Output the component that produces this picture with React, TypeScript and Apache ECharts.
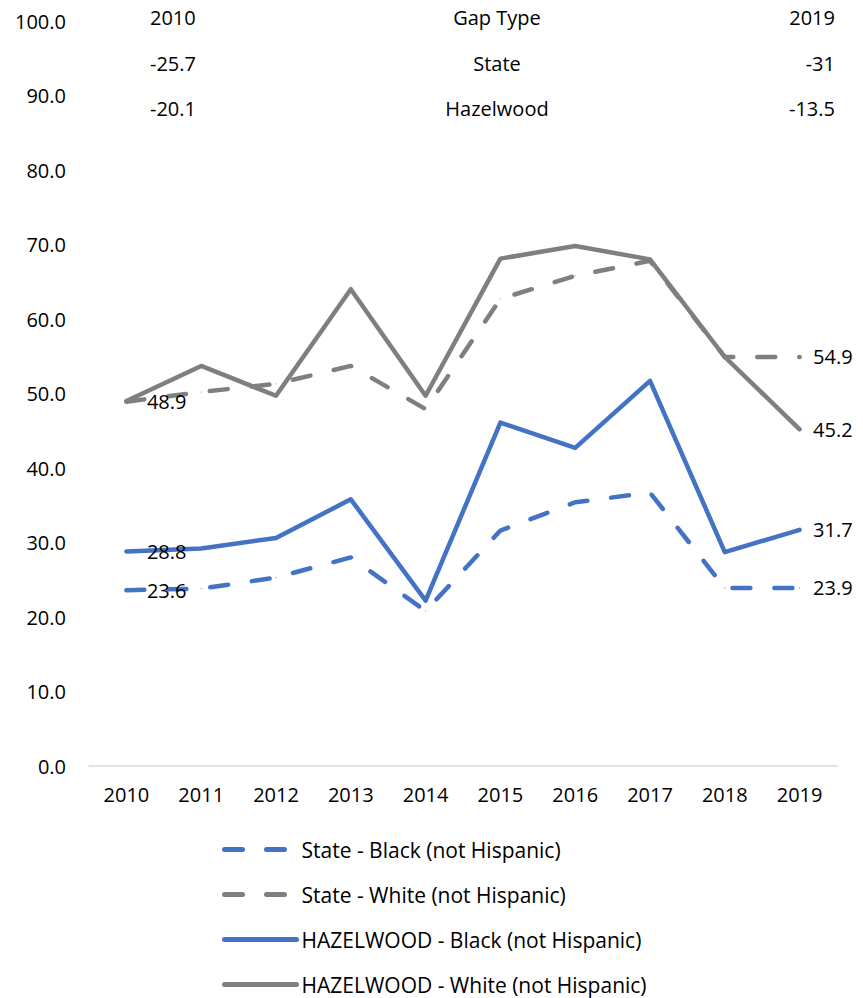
import React, { useEffect, useRef } from "react";
import * as echarts from "echarts";

const years = ["2010", "2011", "2012", "2013", "2014", "2015", "2016", "2017", "2018", "2019"];
const stateBlack = [23.6, 23.8, 25.3, 28.0, 20.8, 31.6, 35.4, 36.7, 23.9, 23.9];
const stateWhite = [48.9, 50.2, 51.3, 53.7, 47.9, 62.7, 65.8, 67.8, 54.9, 54.9];
const hzBlack = [28.8, 29.2, 30.6, 35.8, 22.2, 46.1, 42.7, 51.7, 28.7, 31.7];
const hzWhite = [49.0, 53.7, 49.7, 64.0, 49.7, 68.1, 69.8, 68.0, 54.9, 45.2];

const gapHeader = ["2010", "Gap Type", "2019"];
const gapState = ["-25.7", "State", "-31"];
const gapHazelwood = ["-20.1", "Hazelwood", "-13.5"];

const BLUE = "#4472C4";
const GRAY = "#7F7F7F";
const FONT = "Open Sans";

function mkData(values: number[], labelFirst: boolean) {
  return values.map((v, i) => ({
    value: v,
    label: {
      show: i === values.length - 1 || (i === 0 && labelFirst),
      position: "right",
      distance: i === 0 ? 20 : 13,
    },
  }));
}

export default function App() {
  const ref = useRef<HTMLDivElement>(null);
  useEffect(() => {
    document.body.style.margin = "0";
    const chart = echarts.init(ref.current!, null, { renderer: "svg" });
    const mkSeries = (name: string, values: number[], color: string, dashed: boolean, labelFirst: boolean) => ({
      name,
      type: "line",
      data: mkData(values, labelFirst),
      symbol: "circle",
      symbolSize: 1,
      showSymbol: true,
      itemStyle: { color },
      lineStyle: {
        color,
        width: 4.5,
        type: dashed ? [18, 24] : "solid",
        cap: "round",
        join: "round",
      },
      label: {
        color: "#000",
        fontFamily: FONT,
        fontSize: 20,
        formatter: (p: any) => Number(p.value).toFixed(1),
      },
    });
    const textEls: any[] = [];
    const rowsY = [17, 63, 108];
    [gapHeader, gapState, gapHazelwood].forEach((row, r) => {
      textEls.push({
        type: "text",
        x: 150,
        y: rowsY[r],
        style: { text: row[0], fill: "#000", font: `20px "${FONT}"`, align: "left", verticalAlign: "middle" },
      });
      textEls.push({
        type: "text",
        x: 497,
        y: rowsY[r],
        style: { text: row[1], fill: "#000", font: `20px "${FONT}"`, align: "center", verticalAlign: "middle" },
      });
      textEls.push({
        type: "text",
        x: 835,
        y: rowsY[r],
        style: { text: row[2], fill: "#000", font: `20px "${FONT}"`, align: "right", verticalAlign: "middle" },
      });
    });
    chart.setOption({
      animation: false,
      textStyle: { fontFamily: FONT },
      grid: { left: 89, right: 26, top: 21, bottom: 232, containLabel: false },
      xAxis: {
        type: "category",
        data: years,
        boundaryGap: true,
        axisTick: { show: false },
        axisLine: { lineStyle: { color: "#D9D9D9", width: 1.5 } },
        axisLabel: { color: "#000", fontSize: 20, fontFamily: FONT, margin: 18 },
      },
      yAxis: {
        type: "value",
        min: 0,
        max: 100,
        interval: 10,
        splitLine: { show: false },
        axisLine: { show: false },
        axisTick: { show: false },
        axisLabel: {
          color: "#000",
          fontSize: 20,
          fontFamily: FONT,
          margin: 23,
          formatter: (v: number) => v.toFixed(1),
        },
      },
      legend: {
        orient: "vertical",
        left: 222,
        top: 839,
        padding: 0,
        itemWidth: 72,
        itemHeight: 20,
        itemGap: 24,
        itemStyle: { opacity: 0 },
        lineStyle: { width: 5, cap: "round" },
        textStyle: { color: "#000", fontSize: 21, lineHeight: 21, fontFamily: FONT },
        data: [
          "State - Black (not Hispanic)",
          "State - White (not Hispanic)",
          "HAZELWOOD - Black (not Hispanic)",
          "HAZELWOOD - White (not Hispanic)",
        ],
      },
      graphic: textEls,
      series: [
        mkSeries("State - Black (not Hispanic)", stateBlack, BLUE, true, true),
        mkSeries("State - White (not Hispanic)", stateWhite, GRAY, true, true),
        mkSeries("HAZELWOOD - Black (not Hispanic)", hzBlack, BLUE, false, true),
        mkSeries("HAZELWOOD - White (not Hispanic)", hzWhite, GRAY, false, false),
      ],
    });
    return () => chart.dispose();
  }, []);
  return <div ref={ref} style={{ width: 863, height: 998 }} />;
}
